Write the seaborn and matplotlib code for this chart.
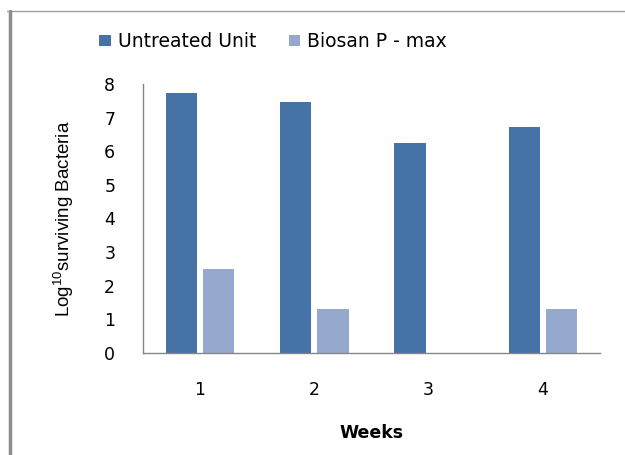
import matplotlib
matplotlib.use("Agg")
import matplotlib.pyplot as plt
import seaborn as sns
import pandas as pd
from matplotlib.lines import Line2D
from matplotlib.patches import Patch

weeks = ["1", "2", "3", "4"]
untreated = [7.73, 7.47, 6.25, 6.73]
biosan = [2.5, 1.3, 0.0, 1.3]
series_names = ["Untreated Unit", "Biosan P - max"]
colors = ["#4572A7", "#95A9CF"]
y_ticks = [0, 1, 2, 3, 4, 5, 6, 7, 8]

df = pd.DataFrame({
    "Week": weeks * 2,
    "Value": untreated + biosan,
    "Series": [series_names[0]] * len(weeks) + [series_names[1]] * len(weeks),
})

sns.set_style("white")
plt.rcParams["font.family"] = ["DejaVu Sans"]
plt.rcParams["text.color"] = "black"
plt.rcParams["axes.labelcolor"] = "black"
plt.rcParams["xtick.color"] = "black"
plt.rcParams["ytick.color"] = "black"
plt.rcParams["mathtext.fontset"] = "custom"
plt.rcParams["mathtext.rm"] = "Liberation Sans"
plt.rcParams["mathtext.it"] = "Liberation Sans"

fig = plt.figure(figsize=(6.25, 4.55), dpi=100)
ax = fig.add_axes([0.2288, 0.2242, 0.7312, 0.5912])

sns.barplot(data=df, x="Week", y="Value", hue="Series", order=weeks,
            hue_order=series_names, palette=colors, width=0.65, gap=0.16,
            saturation=1, ax=ax, legend=False, errorbar=None, linewidth=0)

ax.set_xlim(-0.5, 3.5)
ax.set_ylim(0, 8)
ax.set_yticks(y_ticks)
ax.set_yticklabels([str(t) for t in y_ticks], fontsize=12.5)
ax.tick_params(axis="x", length=0, labelsize=12.5, pad=20)
ax.tick_params(axis="y", length=6, width=1, color="#868686", direction="out", pad=14)
for s in ["top", "right"]:
    ax.spines[s].set_visible(False)
for s in ["left", "bottom"]:
    ax.spines[s].set_color("#868686")
    ax.spines[s].set_linewidth(1)

ax.set_xlabel("Weeks", fontsize=12.5, fontweight="bold", labelpad=18)
ax.set_ylabel(r"Log$^{\mathrm{10}}$surviving Bacteria", fontsize=13.5,
              family=["Liberation Sans", "DejaVu Sans"], labelpad=20)

handles = [Patch(facecolor=c, edgecolor="none") for c in colors]
fig.legend(handles, series_names, loc="center", bbox_to_anchor=(0.437, 0.908),
           ncol=2, frameon=False, fontsize=13.5, handlelength=0.6, handleheight=0.55,
           columnspacing=1.76, handletextpad=0.37)

# outer border (top and left)
fig.add_artist(Line2D([7 / 625, 1.0], [1 - 11 / 455, 1 - 11 / 455],
                      transform=fig.transFigure, color="#A0A0A0", lw=1))
fig.add_artist(Line2D([9.5 / 625, 9.5 / 625], [0, 1 - 11 / 455],
                      transform=fig.transFigure, color="#8C8C8C", lw=2.5))

fig.savefig("out.png", dpi=100)
